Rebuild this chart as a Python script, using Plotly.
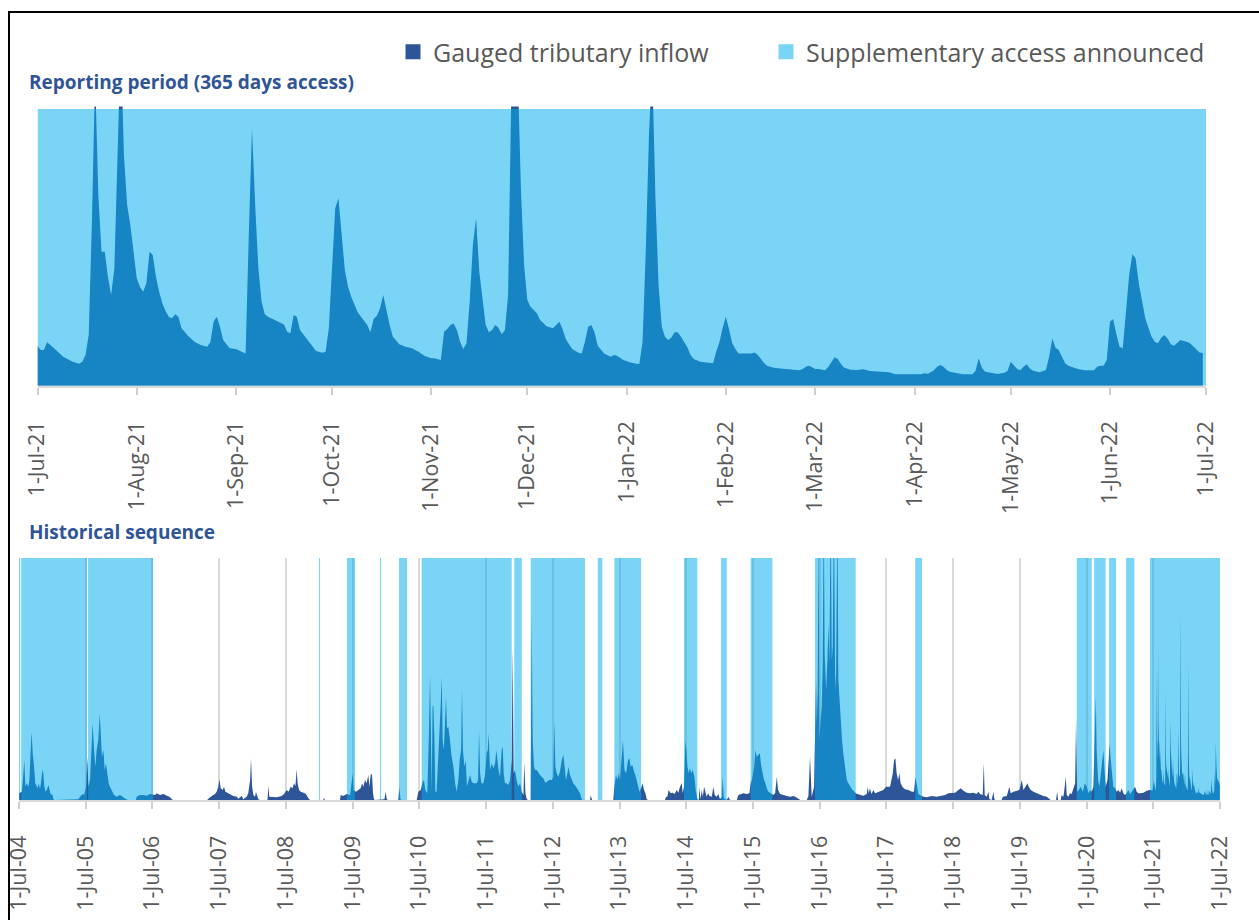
import pandas as pd
import plotly.graph_objects as go

W, H = 1259, 920

# ---------------- DATA ----------------
# Reporting period: gauged tributary inflow, (days since 1-Jul-2021, ML/d)
reporting_flow = [
    (0, 723), (1, 645), (2, 645), (3, 783), (5, 687), (8, 524), (11, 434), (13, 398), (14, 434),
    (15, 554), (16, 916), (17, 2964), (18, 5600), (19, 3446), (20, 2422), (21, 2422), (22, 1970),
    (23, 1639), (24, 2120), (25, 4349), (26, 6200), (27, 4169), (28, 3265), (29, 2904), (30, 2422),
    (31, 1940), (32, 1789), (33, 1699), (34, 1849), (35, 2422), (36, 2361), (37, 1970), (38, 1699),
    (39, 1488), (40, 1349), (41, 1247), (42, 1217), (43, 1289), (44, 1247), (45, 1036), (47, 904),
    (49, 795), (51, 735), (53, 705), (54, 783), (55, 1157), (56, 1247), (57, 1066), (58, 825),
    (60, 675), (62, 663), (64, 614), (65, 584), (66, 2723), (67, 4650), (68, 3265), (69, 2120),
    (70, 1518), (71, 1289), (72, 1247), (73, 1217), (75, 1169), (77, 1108), (78, 976), (79, 946),
    (80, 1277), (81, 1247), (82, 1006), (83, 928), (85, 765), (87, 627), (89, 596), (90, 614),
    (91, 1036), (92, 2060), (93, 3205), (94, 3386), (95, 2783), (96, 2090), (97, 1789), (98, 1608),
    (100, 1325), (102, 1169), (103, 1096), (104, 964), (105, 1205), (106, 1265), (107, 1398),
    (108, 1639), (109, 1337), (110, 1096), (111, 886), (113, 747), (115, 705), (117, 675),
    (119, 614), (121, 536), (123, 494), (124, 494), (126, 464), (127, 976), (128, 1024), (129, 1096),
    (130, 1126), (131, 1006), (132, 795), (133, 663), (134, 765), (135, 1518), (136, 2542),
    (137, 3024), (138, 2060), (139, 1518), (140, 1096), (141, 964), (142, 1006), (143, 1096),
    (144, 1048), (145, 928), (146, 1006), (147, 1639), (148, 5300), (149, 7900), (150, 5600),
    (151, 3566), (152, 2181), (153, 1548), (154, 1428), (155, 1367), (156, 1307), (157, 1187),
    (159, 1072), (161, 1036), (162, 1096), (163, 1157), (164, 1024), (165, 843), (167, 663),
    (169, 596), (170, 584), (171, 795), (172, 1066), (173, 1096), (174, 964), (175, 723),
    (177, 584), (179, 524), (180, 554), (181, 542), (183, 464), (185, 422), (187, 398), (188, 392),
    (189, 795), (190, 2422), (191, 4530), (192, 5800), (193, 3446), (194, 1819), (195, 1066),
    (196, 886), (197, 825), (198, 873), (199, 964), (200, 964), (201, 886), (202, 783), (203, 693),
    (204, 554), (205, 482), (207, 434), (209, 422), (211, 404), (212, 614), (213, 783), (214, 1036),
    (215, 1247), (216, 1024), (217, 765), (218, 663), (219, 584), (221, 584), (223, 584), (224, 602),
    (225, 554), (226, 482), (227, 404), (228, 355), (230, 325), (232, 313), (234, 301), (236, 277),
    (238, 277), (239, 301), (240, 343), (241, 361), (242, 325), (243, 301), (244, 301), (246, 277),
    (247, 337), (248, 422), (249, 512), (250, 482), (251, 386), (252, 325), (254, 289), (256, 283),
    (258, 295), (260, 265), (262, 253), (264, 241), (266, 241), (268, 205), (272, 205), (276, 205),
    (277, 223), (278, 217), (279, 241), (280, 277), (281, 343), (282, 373), (283, 343), (284, 283),
    (285, 253), (287, 223), (289, 205), (292, 205), (293, 265), (294, 494), (295, 325), (296, 253),
    (297, 241), (298, 223), (300, 211), (302, 235), (303, 265), (304, 434), (305, 373), (306, 301),
    (307, 277), (308, 343), (309, 386), (310, 313), (311, 271), (313, 241), (315, 283), (316, 524),
    (317, 855), (318, 687), (319, 645), (320, 524), (321, 404), (322, 361), (323, 337), (325, 301),
    (327, 277), (330, 277), (331, 343), (332, 361), (333, 361), (334, 464), (335, 1157), (336, 1205),
    (337, 928), (338, 705), (339, 675), (340, 1277), (341, 2000), (342, 2373), (343, 2301),
    (344, 1849), (345, 1518), (346, 1229), (347, 1048), (348, 886), (349, 795), (350, 765),
    (351, 867), (352, 916), (353, 855), (354, 747), (355, 723), (356, 783), (357, 825), (358, 807),
    (359, 795), (360, 765), (361, 705), (362, 645), (363, 602), (364, 590),
]

# Historical sequence: gauged tributary inflow, (days since 1-Jul-2004, ML/d)
hist_flow_2004_2010 = [
    (0, 280), (5, 303), (16, 344), (24, 1102), (29, 1652), (35, 551), (42, 689), (51, 551),
    (57, 826), (64, 2066), (69, 2823), (75, 1928), (80, 1239), (84, 1239), (89, 689), (97, 551),
    (102, 482), (108, 689), (115, 441), (122, 826), (128, 1239), (133, 1102), (139, 551),
    (146, 344), (152, 413), (161, 620), (166, 413), (173, 248), (184, 207), (188, 28), (197, 0),
    (320, 0), (325, 28), (334, 138), (347, 248), (356, 207), (367, 551), (374, 1790), (380, 551),
    (389, 826), (398, 2479), (403, 3167), (411, 2066), (418, 1377), (425, 2066), (434, 2479),
    (442, 3580), (447, 2479), (454, 1790), (462, 2066), (469, 1239), (476, 1515), (484, 964),
    (491, 689), (498, 551), (509, 344), (520, 207), (535, 138), (553, 207), (571, 110), (586, 28),
    (599, 0), (640, 0), (644, 138), (662, 207), (681, 207), (699, 179), (717, 248), (735, 220),
    (745, 207), (754, 275), (772, 207), (790, 248), (808, 165), (827, 110), (836, 28), (845, 0),
    (1030, 0), (1036, 55), (1055, 165), (1073, 248), (1082, 344), (1091, 551), (1097, 854),
    (1104, 482), (1115, 413), (1122, 551), (1130, 344), (1140, 303), (1155, 207), (1173, 165),
    (1192, 138), (1201, 55), (1210, 110), (1219, 165), (1228, 28), (1246, 138), (1255, 275),
    (1265, 826), (1270, 1721), (1276, 551), (1283, 207), (1292, 138), (1297, 344), (1303, 138),
    (1310, 28), (1319, 0), (1359, 0), (1361, 69), (1365, 592), (1370, 138), (1383, 138),
    (1411, 110), (1438, 165), (1451, 248), (1465, 413), (1476, 344), (1487, 551), (1498, 482),
    (1505, 689), (1513, 579), (1520, 1267), (1525, 689), (1533, 413), (1542, 344), (1557, 303),
    (1571, 248), (1584, 69), (1593, 0), (1666, 0), (1669, 83), (1675, 0), (1757, 0), (1761, 207),
    (1775, 165), (1794, 248), (1812, 207), (1827, 1102), (1832, 413), (1845, 344), (1858, 413),
    (1870, 482), (1878, 689), (1885, 551), (1894, 826), (1903, 689), (1912, 1033), (1918, 551),
    (1925, 1033), (1932, 1074), (1938, 275), (1943, 28), (1949, 0), (1994, 0), (2000, 28),
    (2007, 344), (2013, 28), (2022, 0), (2076, 0), (2082, 551), (2088, 28), (2095, 0), (2177, 0),
]
hist_flow_2010_2016 = [
    (2186, 344), (2199, 413), (2210, 757), (2217, 826), (2224, 413), (2235, 275), (2243, 2479),
    (2250, 5164), (2255, 2479), (2259, 344), (2264, 3856), (2268, 3924), (2274, 2479), (2279, 344),
    (2286, 344), (2294, 1377), (2301, 2754), (2308, 3856), (2314, 5095), (2319, 2479), (2325, 2066),
    (2332, 3167), (2337, 4268), (2343, 2961), (2350, 3030), (2359, 2479), (2368, 1790), (2378, 1377),
    (2387, 689), (2396, 344), (2405, 826), (2412, 1652), (2420, 2066), (2425, 4613), (2430, 2066),
    (2438, 1377), (2445, 1652), (2452, 551), (2460, 826), (2469, 1033), (2478, 757), (2487, 689),
    (2505, 689), (2513, 826), (2518, 2892), (2524, 1102), (2531, 689), (2542, 689), (2551, 1033),
    (2560, 1928), (2566, 2066), (2571, 2754), (2578, 1239), (2587, 1515), (2597, 1308), (2606, 1515),
    (2613, 2066), (2618, 1652), (2626, 1170), (2633, 964), (2642, 2066), (2648, 2203), (2653, 1102),
    (2660, 689), (2670, 689), (2679, 620), (2688, 826), (2697, 1652), (2702, 6320), (2708, 1102),
    (2715, 1239), (2724, 826), (2733, 551), (2743, 689), (2752, 344), (2761, 207), (2766, 1583),
    (2772, 275), (2779, 55), (2785, 0), (2801, 0), (2806, 7560), (2812, 2479), (2819, 1377),
    (2826, 1239), (2834, 1239), (2843, 1102), (2852, 1033), (2861, 964), (2870, 895), (2881, 716),
    (2892, 757), (2903, 826), (2916, 826), (2925, 964), (2930, 3305), (2936, 1377), (2943, 1102),
    (2952, 964), (2961, 1170), (2971, 1652), (2980, 1859), (2987, 1239), (2994, 826), (3002, 1102),
    (3007, 1377), (3016, 1033), (3025, 826), (3034, 689), (3049, 551), (3062, 413), (3071, 275),
    (3080, 28), (3086, 0), (3126, 0), (3129, 193), (3137, 0), (3253, 0), (3259, 551), (3268, 1033),
    (3275, 826), (3283, 1102), (3290, 826), (3299, 1790), (3306, 2479), (3314, 1239), (3323, 1102),
    (3334, 1652), (3341, 1721), (3348, 1377), (3357, 1446), (3367, 1170), (3374, 1033), (3385, 689),
    (3396, 344), (3405, 482), (3414, 689), (3421, 413), (3429, 275), (3436, 28), (3443, 0),
    (3536, 0), (3542, 138), (3549, 138), (3556, 413), (3567, 275), (3578, 303), (3589, 248),
    (3600, 413), (3609, 303), (3618, 551), (3628, 689), (3633, 275), (3640, 551), (3648, 2479),
    (3653, 2066), (3659, 1377), (3666, 1102), (3673, 1308), (3680, 1102), (3688, 1239), (3697, 964),
    (3704, 413), (3713, 28), (3721, 0), (3724, 551), (3730, 28), (3737, 413), (3743, 138),
    (3750, 551), (3757, 344), (3764, 138), (3772, 275), (3779, 165), (3792, 138), (3801, 551),
    (3808, 207), (3819, 138), (3828, 248), (3837, 28), (3847, 138), (3852, 964), (3858, 69),
    (3865, 28), (3874, 0), (3883, 138), (3889, 28), (3895, 0), (3929, 0), (3938, 207), (3951, 248),
    (3965, 275), (3983, 248), (3998, 275), (4005, 689), (4014, 895), (4024, 1377), (4031, 2066),
    (4038, 1790), (4047, 1859), (4055, 1928), (4062, 1446), (4071, 1102), (4078, 826), (4086, 689),
    (4093, 482), (4102, 344), (4111, 275), (4120, 248), (4129, 207), (4139, 275), (4148, 964),
    (4155, 413), (4166, 248), (4181, 207), (4203, 165), (4221, 138), (4239, 165), (4254, 110),
    (4266, 28), (4276, 0), (4312, 0), (4321, 165),
]
hist_flow_2016_2021 = [
    (4330, 1790), (4339, 138), (4352, 551), (4357, 2203), (4363, 4957), (4367, 3167), (4372, 4544),
    (4377, 12000), (4381, 2479), (4388, 3305), (4394, 3856), (4399, 5508), (4405, 12000),
    (4410, 6059), (4418, 4544), (4425, 5783), (4430, 7298), (4436, 5646), (4443, 12000),
    (4449, 5783), (4454, 6334), (4461, 12000), (4467, 5233), (4472, 4544), (4480, 12000),
    (4485, 4957), (4491, 4131), (4498, 3167), (4505, 2479), (4512, 1928), (4522, 1377), (4531, 826),
    (4540, 689), (4549, 551), (4562, 413), (4573, 344), (4580, 275), (4589, 248), (4604, 207),
    (4622, 179), (4640, 248), (4646, 551), (4651, 275), (4658, 482), (4666, 248), (4677, 413),
    (4686, 275), (4695, 303), (4713, 344), (4731, 413), (4746, 551), (4768, 551), (4783, 1102),
    (4790, 1652), (4797, 1721), (4804, 1102), (4812, 826), (4819, 1102), (4826, 689), (4837, 523),
    (4850, 441), (4868, 413), (4887, 344), (4899, 344), (4907, 964), (4914, 551), (4923, 248),
    (4932, 207), (4950, 138), (4969, 110), (4996, 165), (5023, 138), (5051, 165), (5069, 207),
    (5087, 275), (5105, 303), (5124, 303), (5142, 413), (5155, 482), (5169, 386), (5188, 303),
    (5206, 275), (5224, 303), (5242, 248), (5251, 344), (5261, 248), (5275, 207), (5281, 1515),
    (5286, 207), (5297, 138), (5306, 344), (5312, 28), (5324, 0), (5334, 344), (5339, 28), (5346, 0),
    (5379, 0), (5385, 138), (5407, 165), (5421, 551), (5428, 275), (5443, 344), (5461, 386),
    (5476, 413), (5489, 826), (5498, 413), (5509, 551), (5520, 689), (5527, 551), (5538, 413),
    (5553, 344), (5571, 275), (5589, 207), (5607, 165), (5626, 138), (5640, 69), (5647, 0),
    (5677, 0), (5682, 344), (5688, 0), (5702, 0), (5708, 207), (5717, 138), (5724, 551), (5730, 964),
    (5735, 207), (5744, 138), (5753, 275), (5762, 248), (5772, 482), (5781, 689), (5786, 3305),
    (5792, 344), (5801, 413), (5812, 551), (5823, 344), (5834, 689), (5845, 551), (5854, 275),
    (5863, 413), (5872, 344), (5881, 551), (5888, 2754), (5894, 4268), (5899, 2066), (5907, 826),
    (5914, 551), (5921, 1102), (5928, 1515), (5936, 2066), (5941, 1377), (5948, 551), (5958, 826),
    (5965, 1790), (5970, 2341), (5976, 1652), (5983, 1102), (5990, 551), (6000, 482), (6009, 344),
    (6018, 413), (6027, 303), (6036, 482), (6045, 275), (6054, 207), (6063, 275), (6073, 413),
    (6082, 248), (6091, 344), (6100, 482), (6109, 551), (6118, 344), (6127, 275), (6136, 275),
    (6155, 303), (6173, 386), (6188, 413), (6205, 400),
]

# Supplementary access announced, (start, end) in days since 1-Jul-2004
access_periods = [
    (0, 7), (12, 372), (378, 734), (1642, 1648), (1795, 1839), (1976, 1982), (2080, 2124),
    (2204, 2697), (2711, 2752), (2801, 3098), (3168, 3193), (3259, 3405), (3640, 3713),
    (3843, 3874), (4005, 4124), (4357, 4580), (4906, 4943), (5790, 5872), (5885, 5948),
    (5967, 6005), (6060, 6105), (6191, 6574),
]
# Reporting period: access announced all 365 days
reporting_access = [(0, 365)]

TOP_AXIS_MAX = 5045       # ML/d
TOP_ACCESS_LEVEL = 5000   # full-height band
HIST_AXIS_MAX = 10000
HIST_ACCESS_LEVEL = 10000

START_REPORT = pd.Timestamp("2021-07-01")
END_REPORT = pd.Timestamp("2022-07-01")
START_HIST = pd.Timestamp("2004-07-01")

# ---------------- BUILD ----------------
NAVY = "#2E5597"
ACCESS = "rgba(4,174,236,0.53)"
ACCESS_LEGEND = "#7AD4F5"
GREY_TXT = "#595959"
AXIS_GREY = "#D9D9D9"
TITLE_BLUE = "#2F5597"
FONT = "Open Sans"


def to_dates(t0, days):
    return [t0 + pd.Timedelta(days=int(d)) for d in days]


rep_days = [p[0] for p in reporting_flow]
rep_vals = [p[1] for p in reporting_flow]
rep_x = to_dates(START_REPORT, rep_days)

hist_pts = hist_flow_2004_2010 + hist_flow_2010_2016 + hist_flow_2016_2021
hist_x = to_dates(START_HIST, [p[0] for p in hist_pts]) + rep_x
hist_y = [p[1] for p in hist_pts] + rep_vals


def band(t0, periods, level):
    xs, ys = [], []
    for s, e in periods:
        ds, de = t0 + pd.Timedelta(days=s), t0 + pd.Timedelta(days=e)
        xs += [ds, ds, de, de]
        ys += [0, level, level, 0]
    return xs, ys


fig = go.Figure()

# Top: reporting period
fig.add_trace(go.Scatter(x=rep_x, y=rep_vals, mode="lines", line=dict(width=0, color=NAVY),
                         fill="tozeroy", fillcolor=NAVY, showlegend=False, hoverinfo="skip",
                         xaxis="x", yaxis="y"))
bx, by = band(START_REPORT, reporting_access, TOP_ACCESS_LEVEL)
fig.add_trace(go.Scatter(x=bx, y=by, mode="lines", line=dict(width=0, color=ACCESS),
                         fill="tozeroy", fillcolor=ACCESS, showlegend=False, hoverinfo="skip",
                         xaxis="x", yaxis="y"))

# Bottom: historical sequence
fig.add_trace(go.Scatter(x=hist_x, y=hist_y, mode="lines", line=dict(width=0, color=NAVY),
                         fill="tozeroy", fillcolor=NAVY, showlegend=False, hoverinfo="skip",
                         xaxis="x2", yaxis="y2"))
hx, hy = band(START_HIST, access_periods, HIST_ACCESS_LEVEL)
fig.add_trace(go.Scatter(x=hx, y=hy, mode="lines", line=dict(width=0, color=ACCESS),
                         fill="tozeroy", fillcolor=ACCESS, showlegend=False, hoverinfo="skip",
                         xaxis="x2", yaxis="y2"))

# Legend entries (two independent legends so each can be placed exactly)
fig.add_trace(go.Scatter(x=[None], y=[None], mode="markers", name="Gauged tributary inflow",
                         marker=dict(symbol="square", size=15, color=NAVY), xaxis="x", yaxis="y",
                         legend="legend"))
fig.add_trace(go.Scatter(x=[None], y=[None], mode="markers", name="Supplementary access announced",
                         marker=dict(symbol="square", size=15, color=ACCESS_LEGEND), xaxis="x",
                         yaxis="y", legend="legend2"))

tickfont = dict(family=FONT, size=21.5, color=GREY_TXT)
common_x = dict(type="date", tickformat="%-d-%b-%y", tickangle=-90, ticks="outside", ticklen=7,
                tickwidth=1.5, tickcolor="#CFCFCF", showline=True, linecolor=AXIS_GREY, linewidth=2,
                zeroline=False, tickfont=tickfont, ticklabelstandoff=18, fixedrange=True,
                automargin=False)

legend_common = dict(orientation="h", xanchor="left", y=1 - 52 / H, yanchor="middle",
                     font=dict(family=FONT, size=25, color=GREY_TXT), bgcolor="rgba(0,0,0,0)",
                     itemwidth=30, itemclick=False, itemdoubleclick=False)

fig.update_layout(
    width=W, height=H, margin=dict(l=0, r=0, t=0, b=0, autoexpand=False),
    paper_bgcolor="white", plot_bgcolor="rgba(0,0,0,0)",
    xaxis=dict(domain=[37.5 / W, 1206 / W], anchor="y", range=[START_REPORT, END_REPORT],
               tick0="2021-07-01", dtick="M1", showgrid=False, **common_x),
    yaxis=dict(domain=[1 - 385.7 / H, 1 - 106.5 / H], range=[0, TOP_AXIS_MAX], visible=False,
               fixedrange=True),
    xaxis2=dict(domain=[19 / W, 1220 / W], anchor="y2",
                range=[START_HIST, pd.Timestamp("2022-07-01")], tick0="2004-07-01", dtick="M12",
                showgrid=True, gridcolor=AXIS_GREY, gridwidth=2, **common_x),
    yaxis2=dict(domain=[1 - 800 / H, 1 - 558 / H], range=[0, HIST_AXIS_MAX], visible=False,
                fixedrange=True),
    legend=dict(x=393 / W, **legend_common),
    legend2=dict(x=766 / W, **legend_common),
    annotations=[
        dict(text="<b>Reporting period (365 days access)</b>", x=27 / W, y=1 - 82 / H,
             xref="paper", yref="paper", xanchor="left", yanchor="middle", showarrow=False,
             font=dict(family=FONT, size=19, color=TITLE_BLUE)),
        dict(text="<b>Historical sequence</b>", x=27 / W, y=1 - 532 / H,
             xref="paper", yref="paper", xanchor="left", yanchor="middle", showarrow=False,
             font=dict(family=FONT, size=19, color=TITLE_BLUE)),
    ],
    shapes=[dict(type="rect", xref="paper", yref="paper", x0=9 / W, x1=1.05, y0=-0.05,
                 y1=1 - 12 / H, line=dict(color="black", width=2), fillcolor="rgba(0,0,0,0)",
                 layer="above")],
    hovermode=False,
)

fig.write_html("out.html", include_plotlyjs=True, config={"displayModeBar": False},
               post_script="document.body.style.margin='0px';document.body.style.overflow='hidden';")
